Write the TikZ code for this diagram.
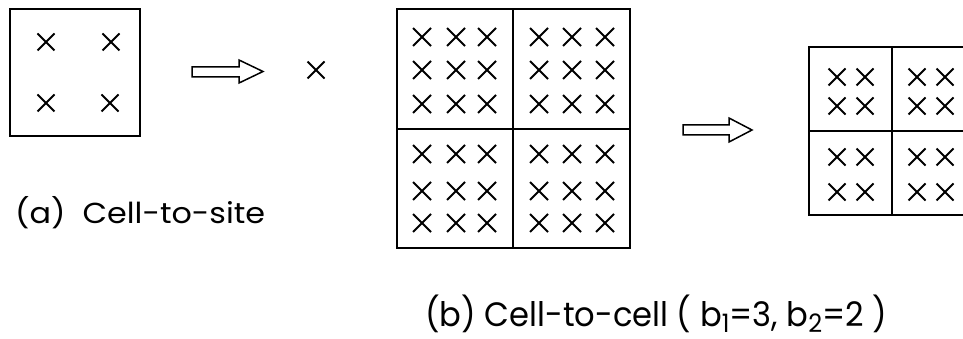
\documentclass[tikz,border=0pt]{standalone}
\usepackage{fontspec}
\setmainfont{Poppins}
\usepackage{graphicx}
\newcommand\lowidx[1]{\raisebox{-0.35ex}{\fontsize{7.5}{8}\selectfont #1}}
\newcommand\pl{\smash{(}}
\newcommand\pr{\smash{)}}
\begin{document}
\begin{tikzpicture}[x=1pt,y=-1pt,
  frame/.style={line width=1.5pt, line join=miter},
  cross/.style={line width=1.9pt},
  blockarrow/.style={line width=1.5pt, line join=miter},
  caption/.style={inner sep=0pt, anchor=base west}]
\useasboundingbox (0,0) rectangle (963,339);

% (a) one cell with four sites
\draw[frame] (10,9) rectangle (140,136);
\foreach \x/\y in {46/42,111/42,46/103,110/103}
  \draw[cross] (\x-8.5,\y-8.5) -- (\x+8.5,\y+8.5) (\x-8.5,\y+8.5) -- (\x+8.5,\y-8.5);
\draw[blockarrow] (192,67) -- (239,67) -- (239,60) -- (263,71.5) -- (239,83) -- (239,77) -- (192,77) -- cycle;
\draw[cross] (316-8.5,70-8.5) -- (316+8.5,70+8.5) (316-8.5,70+8.5) -- (316+8.5,70-8.5);
\node[caption] (capa) at (15,223) {\resizebox{250pt}{22pt}{\pl a\pr\ \ Cell-to-site}};

% (b) four cells of 3x3 sites
\draw[frame] (397,9) rectangle (630,248);
\draw[frame] (513,9) -- (513,248) (397,129) -- (630,129);
\foreach \x in {422,456,487,539,572,605}
  \foreach \y in {37,70,104,154,191,223}
    \draw[cross] (\x-9,\y-9) -- (\x+9,\y+9) (\x-9,\y+9) -- (\x+9,\y-9);
\draw[blockarrow] (683,125) -- (729,125) -- (729,118) -- (752,130) -- (729,142) -- (729,135) -- (683,135) -- cycle;

% (b) four cells of 2x2 sites, running past the right edge
\begin{scope}
\clip (800,0) rectangle (963,260);
\draw[frame] (809,47) rectangle (975,215);
\draw[frame] (892,47) -- (892,215) (809,131) -- (975,131);
\foreach \x in {837,865,917,945}
  \foreach \y in {77,106,157,192}
    \draw[cross] (\x-8.5,\y-8.5) -- (\x+8.5,\y+8.5) (\x-8.5,\y+8.5) -- (\x+8.5,\y-8.5);
\end{scope}
\node[caption] (capb) at (425,326) {\resizebox{462pt}{25pt}{\pl b\pr\ Cell-to-cell \pl\ b\lowidx{1}=3, b\lowidx{2}=2 \pr}};
\end{tikzpicture}
\end{document}
